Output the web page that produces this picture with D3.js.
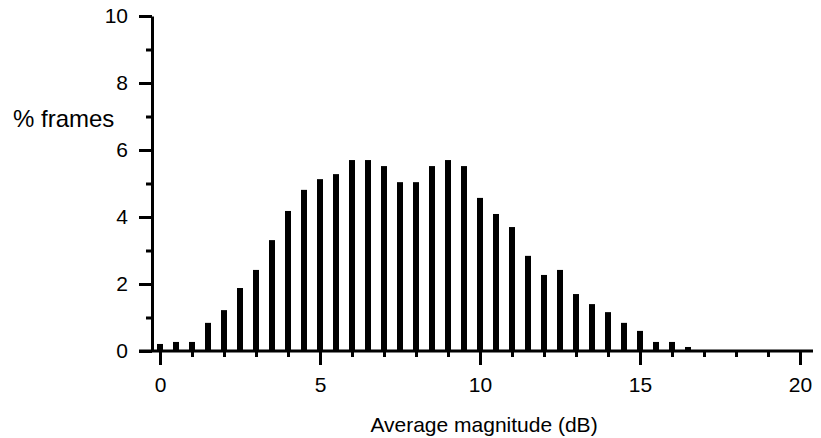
<!DOCTYPE html>
<html><head><meta charset="utf-8">
<script src="https://cdn.jsdelivr.net/npm/d3@7"></script>
<style>body{margin:0;background:#fff}svg{display:block}text{font-family:"Liberation Sans",Arial,sans-serif;fill:#000}</style>
</head><body>
<script>
const magnitudes = [0,0.5,1,1.5,2,2.5,3,3.5,4,4.5,5,5.5,6,6.5,7,7.5,8,8.5,9,9.5,10,10.5,11,11.5,12,12.5,13,13.5,14,14.5,15,15.5,16,16.5,17];
const percentFrames = [0.21,0.27,0.27,0.84,1.22,1.88,2.42,3.31,4.18,4.81,5.13,5.28,5.7,5.7,5.52,5.04,5.04,5.52,5.7,5.52,4.57,4.09,3.7,2.84,2.27,2.42,1.7,1.4,1.16,0.84,0.6,0.27,0.27,0.12,0.03];
const xMajorTicks = [0,5,10,15,20];
const xMinorTicks = [1,2,3,4,6,7,8,9,11,12,13,14,16,17,18,19];
const yMajorTicks = [0,2,4,6,8,10];
const yMinorTicks = [1,3,5,7,9];

const W = 821, H = 438;
const svg = d3.select("body").append("svg").attr("width", W).attr("height", H);
const x = d3.scaleLinear().domain([0,20]).range([160,800]);
const y = d3.scaleLinear().domain([0,10]).range([351,16]);
const axisX = 152;

// bars
svg.selectAll("rect.bar").data(magnitudes).enter().append("rect")
  .attr("class","bar")
  .attr("x", d => x(d) - 3)
  .attr("width", 6)
  .attr("y", (d,i) => y(percentFrames[i]))
  .attr("height", (d,i) => y(0) - y(percentFrames[i]))
  .attr("fill", "#000");

// x axis
const gx = svg.append("g").attr("transform", `translate(0,${y(0)})`);
gx.call(d3.axisBottom(x).tickValues(xMajorTicks).tickSize(14).tickSizeOuter(0).tickPadding(12).tickFormat(d3.format("d")));
const gxm = svg.append("g").attr("transform", `translate(0,${y(0)})`);
gxm.call(d3.axisBottom(x).tickValues(xMinorTicks).tickSize(6).tickSizeOuter(0).tickFormat(""));
gxm.select(".domain").remove();
gx.select(".domain").attr("d", `M139,0H813`);

// y axis
const gy = svg.append("g").attr("transform", `translate(${axisX},0)`);
gy.call(d3.axisLeft(y).tickValues(yMajorTicks).tickSize(13).tickSizeOuter(0).tickPadding(11).tickFormat(d3.format("d")));
const gym = svg.append("g").attr("transform", `translate(${axisX},0)`);
gym.call(d3.axisLeft(y).tickValues(yMinorTicks).tickSize(6).tickSizeOuter(0).tickFormat(""));
gym.select(".domain").remove();

svg.selectAll(".domain, .tick line").attr("stroke","#000").attr("stroke-width",3);
svg.selectAll(".tick text").style("font-size","21px").attr("fill","#000");

svg.append("text").attr("x", 484).attr("y", 432).attr("text-anchor","middle")
  .style("font-size","21px").text("Average magnitude (dB)");
svg.append("text").attr("x", 13).attr("y", 127)
  .style("font-size","24px").text("% frames");
</script>
</body></html>
